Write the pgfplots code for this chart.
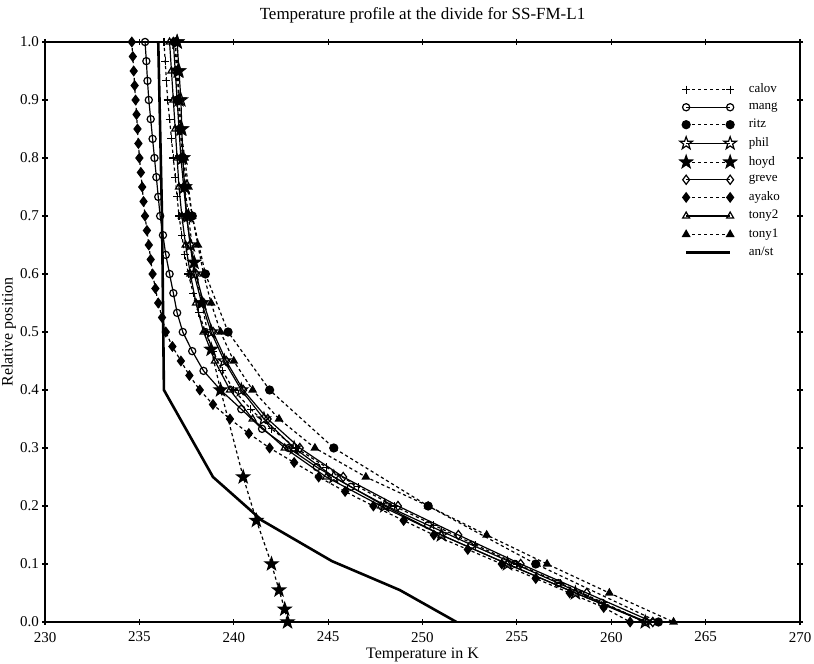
\documentclass[border=0pt]{standalone}
\usepackage{fontspec}
\setmainfont{Liberation Serif}
\usepackage{pgfplots}
\usepackage{pgfplotstable}
\pgfplotsset{compat=1.18}

% five pointed star marks (filled and open)
\pgfdeclareplotmark{fstar}{%
  \pgfpathmoveto{\pgfpointpolar{90}{\pgfplotmarksize}}%
  \pgfpathlineto{\pgfpointpolar{126}{0.4\pgfplotmarksize}}%
  \pgfpathlineto{\pgfpointpolar{162}{\pgfplotmarksize}}%
  \pgfpathlineto{\pgfpointpolar{198}{0.4\pgfplotmarksize}}%
  \pgfpathlineto{\pgfpointpolar{234}{\pgfplotmarksize}}%
  \pgfpathlineto{\pgfpointpolar{270}{0.4\pgfplotmarksize}}%
  \pgfpathlineto{\pgfpointpolar{306}{\pgfplotmarksize}}%
  \pgfpathlineto{\pgfpointpolar{342}{0.4\pgfplotmarksize}}%
  \pgfpathlineto{\pgfpointpolar{18}{\pgfplotmarksize}}%
  \pgfpathlineto{\pgfpointpolar{54}{0.4\pgfplotmarksize}}%
  \pgfpathclose
  \pgfusepathqfillstroke}
\pgfdeclareplotmark{ostar}{%
  \pgfpathmoveto{\pgfpointpolar{90}{\pgfplotmarksize}}%
  \pgfpathlineto{\pgfpointpolar{126}{0.4\pgfplotmarksize}}%
  \pgfpathlineto{\pgfpointpolar{162}{\pgfplotmarksize}}%
  \pgfpathlineto{\pgfpointpolar{198}{0.4\pgfplotmarksize}}%
  \pgfpathlineto{\pgfpointpolar{234}{\pgfplotmarksize}}%
  \pgfpathlineto{\pgfpointpolar{270}{0.4\pgfplotmarksize}}%
  \pgfpathlineto{\pgfpointpolar{306}{\pgfplotmarksize}}%
  \pgfpathlineto{\pgfpointpolar{342}{0.4\pgfplotmarksize}}%
  \pgfpathlineto{\pgfpointpolar{18}{\pgfplotmarksize}}%
  \pgfpathlineto{\pgfpointpolar{54}{0.4\pgfplotmarksize}}%
  \pgfpathclose
  \pgfusepathqstroke}

\pgfplotstableread{
T y
236.3 1.000
236.37 0.967
236.43 0.933
236.5 0.900
236.6 0.867
236.7 0.833
236.8 0.800
236.9 0.767
237.0 0.733
237.1 0.700
237.25 0.667
237.4 0.633
237.6 0.600
237.85 0.567
238.15 0.533
238.5 0.500
238.9 0.467
239.4 0.433
240.0 0.400
240.9 0.367
242.0 0.333
243.3 0.300
244.9 0.267
246.6 0.233
248.5 0.200
250.6 0.167
252.8 0.133
255.0 0.100
257.3 0.067
259.6 0.033
261.8 0.000
}\calov

\pgfplotstableread{
T y
235.3 1.000
235.37 0.967
235.43 0.933
235.5 0.900
235.6 0.867
235.7 0.833
235.8 0.800
235.9 0.767
236.0 0.733
236.1 0.700
236.25 0.667
236.4 0.633
236.6 0.600
236.8 0.567
237.0 0.533
237.3 0.500
237.8 0.467
238.4 0.433
239.3 0.400
240.4 0.367
241.5 0.333
242.9 0.300
244.4 0.267
246.2 0.233
248.1 0.200
250.3 0.167
252.6 0.133
254.9 0.100
257.2 0.067
259.5 0.033
261.8 0.000
}\mang

\pgfplotstableread{
T y
236.9 1.0
237.0 0.9
237.3 0.8
237.8 0.7
238.5 0.6
239.7 0.5
241.9 0.4
245.3 0.3
250.3 0.2
256.0 0.1
262.5 0.0
}\ritz

\pgfplotstableread{
T y
237.0 1.00
237.1 0.95
237.2 0.90
237.25 0.85
237.3 0.80
237.4 0.75
237.5 0.70
237.7 0.65
237.9 0.60
238.3 0.55
238.8 0.50
239.5 0.45
240.4 0.40
241.6 0.35
243.2 0.30
245.3 0.25
248.0 0.20
251.0 0.15
254.5 0.10
258.1 0.05
261.8 0.00
}\phil

\pgfplotstableread{
T y
237.0 1.000
237.05 0.950
237.1 0.900
237.2 0.850
237.3 0.800
237.4 0.750
237.6 0.700
237.9 0.620
238.3 0.550
238.8 0.470
239.3 0.400
240.5 0.250
241.2 0.175
242.0 0.100
242.4 0.055
242.7 0.022
242.85 0.000
}\hoyd

\pgfplotstableread{
T y
236.8 1.00
236.9 0.95
237.0 0.90
237.1 0.85
237.2 0.80
237.35 0.75
237.5 0.70
237.7 0.65
238.0 0.60
238.4 0.55
238.9 0.50
239.6 0.45
240.5 0.40
241.8 0.35
243.5 0.30
245.8 0.25
248.7 0.20
251.9 0.15
255.2 0.10
258.7 0.05
262.2 0.00
}\greve

\pgfplotstableread{
T y
234.6 1.000
234.65 0.975
234.7 0.950
234.75 0.925
234.8 0.900
234.85 0.875
234.9 0.850
234.95 0.825
235.0 0.800
235.08 0.775
235.15 0.750
235.22 0.725
235.3 0.700
235.4 0.675
235.5 0.650
235.6 0.625
235.7 0.600
235.85 0.575
236.0 0.550
236.2 0.525
236.4 0.500
236.75 0.475
237.2 0.450
237.65 0.425
238.2 0.400
238.9 0.375
239.8 0.350
240.8 0.325
241.9 0.300
243.2 0.275
244.5 0.250
245.9 0.225
247.4 0.200
249.0 0.175
250.6 0.150
252.4 0.125
254.2 0.100
256.0 0.075
257.8 0.050
259.6 0.025
261.0 0.000
}\ayako

\pgfplotstableread{
T y
236.6 1.00
236.7 0.95
236.8 0.90
236.9 0.85
237.0 0.80
237.1 0.75
237.25 0.70
237.45 0.65
237.7 0.60
238.0 0.55
238.4 0.50
239.0 0.45
239.8 0.40
241.0 0.35
242.7 0.30
244.9 0.25
247.8 0.20
251.0 0.15
254.5 0.10
258.1 0.05
261.9 0.00
}\tonytwo

\pgfplotstableread{
T y
236.9 1.00
237.0 0.95
237.1 0.90
237.2 0.85
237.4 0.80
237.6 0.75
237.8 0.70
238.1 0.65
238.4 0.60
238.8 0.55
239.3 0.50
240.0 0.45
241.0 0.40
242.4 0.35
244.3 0.30
247.0 0.25
250.3 0.20
253.4 0.15
256.6 0.10
259.9 0.05
263.3 0.00
}\tonyone

\pgfplotstableread{
T y
236.0 1.000
236.2 0.700
236.3 0.400
238.9 0.250
241.5 0.175
245.2 0.105
248.8 0.055
251.8 0.000
}\anst

\begin{document}
\begin{tikzpicture}
\begin{axis}[
  name=ax,
  scale only axis,
  width=377.5pt, height=290pt,
  xmin=230, xmax=270, ymin=0, ymax=1,
  xtick={230,235,...,270},
  ytick={0,0.1,...,1.0},
  yticklabel style={xshift=2pt, /pgf/number format/.cd,fixed,fixed zerofill,precision=1},
  /pgf/number format/assume math mode=true,
  tick align=center,
  major tick length=3pt,
  tick style={black, line width=0.6pt},
  axis line style={line width=1pt},
  tick label style={font=\fontsize{7.5}{8}\selectfont},
  every axis title shift=0pt,
  title={Temperature profile at the divide for SS-FM-L1},
  title style={at={(axis description cs:0.5,1.0466)}, anchor=center, inner sep=0pt, font=\fontsize{8.5}{10}\selectfont},
  xlabel={Temperature in K},
  xlabel style={at={(axis description cs:0.5,-0.057)}, anchor=center, inner sep=0pt, font=\fontsize{8}{9}\selectfont},
  ylabel={Relative position},
  ylabel style={at={(axis description cs:-0.048,0.5)}, anchor=center, inner sep=0pt, font=\fontsize{8}{9}\selectfont},
  legend style={at={(axis description cs:0.985,0.94)}, anchor=north east, draw=none, fill=none,
    font=\fontsize{6.5}{6.5}\selectfont, row sep=1pt, nodes={inner sep=1.2pt},
    /tikz/every odd column/.append style={column sep=5pt}},
  legend cell align=left,
  legend image code/.code={\draw[mark repeat=2,mark phase=1] plot coordinates {(0pt,0pt) (11pt,0pt) (22pt,0pt)};},
  every axis plot/.append style={black, line width=0.6pt},
  dsh/.style={dash pattern=on 1.6pt off 1.4pt},
]
\addplot[dsh, mark=+, mark size=2pt, mark options={solid}] table[x=T,y=y] {\calov};
\addlegendentry{calov}
\addplot[mark=o, mark size=1.8pt] table[x=T,y=y] {\mang};
\addlegendentry{mang}
\addplot[dsh, mark=*, mark size=2pt, mark options={solid}] table[x=T,y=y] {\ritz};
\addlegendentry{ritz}
\addplot[mark=ostar, mark size=3.3pt] table[x=T,y=y] {\phil};
\addlegendentry{phil}
\addplot[dsh, mark=fstar, mark size=3.3pt, mark options={solid, fill=black}] table[x=T,y=y] {\hoyd};
\addlegendentry{hoyd}
\addplot[mark=diamond, mark size=2.3pt] table[x=T,y=y] {\greve};
\addlegendentry{greve}
\addplot[dsh, mark=diamond*, mark size=2.3pt, mark options={solid}] table[x=T,y=y] {\ayako};
\addlegendentry{ayako}
\addplot[mark=triangle, mark size=2pt] table[x=T,y=y] {\tonytwo};
\addlegendentry{tony2}
\addplot[dsh, mark=triangle*, mark size=2pt, mark options={solid}] table[x=T,y=y] {\tonyone};
\addlegendentry{tony1}
\addplot[line width=1.3pt, no marks] table[x=T,y=y] {\anst};
\addlegendentry{an/st}
\end{axis}
\pgfresetboundingbox
\path ([xshift=-22.5pt,yshift=-21pt]ax.south west) rectangle ([xshift=7pt,yshift=21pt]ax.north east);
\end{tikzpicture}
\end{document}
